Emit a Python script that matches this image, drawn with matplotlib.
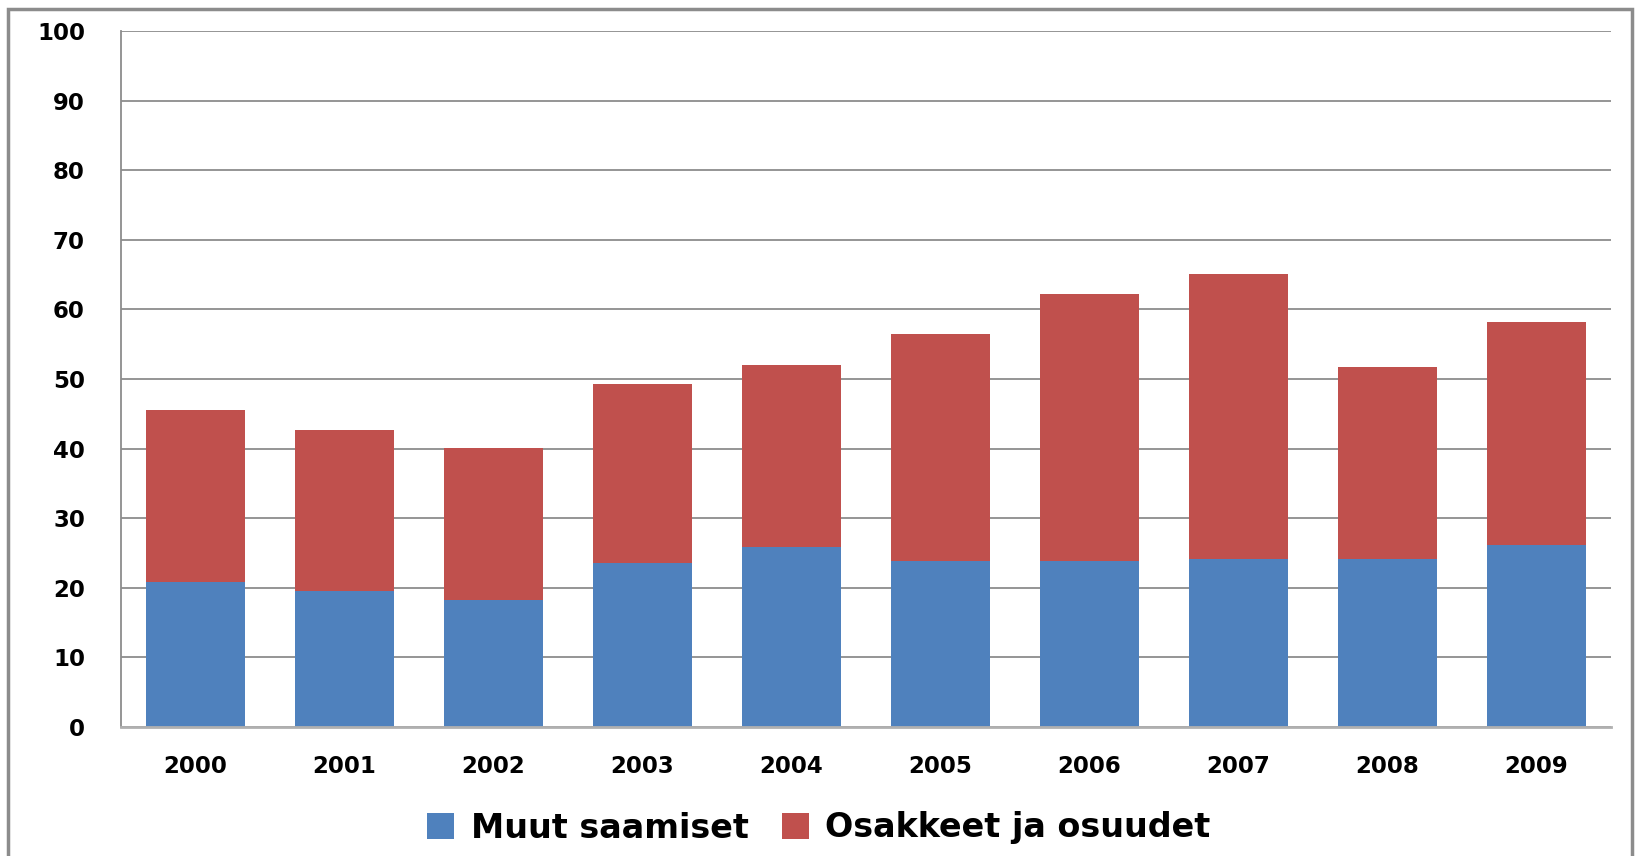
import matplotlib
matplotlib.use("Agg")
import matplotlib.pyplot as plt
from matplotlib.patches import Rectangle
import numpy as np

# values
years = ["2000", "2001", "2002", "2003", "2004", "2005", "2006", "2007", "2008", "2009"]
muut_saamiset = [20.8, 19.5, 18.3, 23.5, 25.9, 23.8, 23.8, 24.1, 24.1, 26.1]
totals = [45.6, 42.6, 40.1, 49.3, 52.0, 56.5, 62.2, 65.1, 51.7, 58.2]
osakkeet = [t - m for t, m in zip(totals, muut_saamiset)]

BLUE = "#4F81BD"
RED = "#C0504D"

fig = plt.figure(figsize=(16.38, 8.56), dpi=100)
ax = fig.add_axes([0.0739, 0.1507, 0.9096, 0.8131])

x = np.arange(len(years))
ax.bar(x, muut_saamiset, width=0.66, color=BLUE, label="Muut saamiset", zorder=3)
ax.bar(x, osakkeet, width=0.66, bottom=muut_saamiset, color=RED,
       label="Osakkeet ja osuudet", zorder=3)

ax.set_xlim(-0.5, len(years) - 0.5)
ax.set_ylim(0, 100)
ax.set_yticks(range(0, 101, 10))
ax.set_xticks(x)
ax.set_xticklabels(years)
ax.yaxis.grid(True, color="#8c8c8c", linewidth=1.3, zorder=0)
ax.set_axisbelow(True)

for side in ["top", "right"]:
    ax.spines[side].set_visible(False)
ax.spines["left"].set_color("#8c8c8c")
ax.spines["left"].set_linewidth(1.3)
ax.spines["bottom"].set_color("#b0b0b0")
ax.spines["bottom"].set_linewidth(2)
ax.spines["bottom"].set_zorder(4)

ax.tick_params(axis="both", length=0)
ax.tick_params(axis="y", pad=26)
ax.tick_params(axis="x", pad=20)
for lbl in ax.get_xticklabels() + ax.get_yticklabels():
    lbl.set_fontsize(16.5)
    lbl.set_fontweight("bold")
    lbl.set_family("DejaVu Sans")

leg = fig.legend(loc="center", bbox_to_anchor=(0.5, 1 - 828 / 856), ncol=2,
                 frameon=False, prop={"family": "DejaVu Sans", "weight": "bold", "size": 24},
                 handlelength=0.8, handleheight=0.8, handletextpad=0.5, columnspacing=1.0)

# outer chart frame
fig.patches.append(Rectangle((8 / 1638, -0.05), 1624 / 1638, 1.05 - 9 / 856,
                             transform=fig.transFigure, fill=False,
                             edgecolor="#8c8c8c", linewidth=2.5))

fig.savefig("out.png", dpi=100)
